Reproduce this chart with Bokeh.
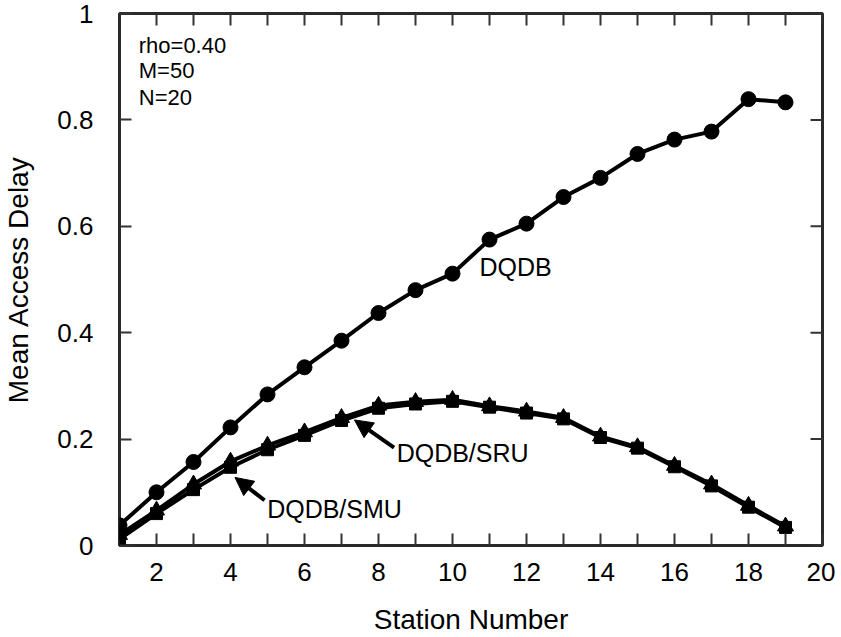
from bokeh.plotting import figure
from bokeh.models import FixedTicker, LinearAxis, Range1d, Arrow, NormalHead, Label
from bokeh.embed import file_html
from bokeh.resources import INLINE

stations = list(range(1, 20))
dqdb = [0.038, 0.100, 0.157, 0.222, 0.284, 0.335, 0.385, 0.437, 0.480, 0.511,
        0.575, 0.605, 0.655, 0.691, 0.736, 0.763, 0.778, 0.839, 0.833]
dqdb_sru = [0.020, 0.066, 0.115, 0.158, 0.188, 0.213, 0.240, 0.263, 0.270, 0.274,
            0.262, 0.252, 0.240, 0.205, 0.185, 0.150, 0.115, 0.075, 0.036]
dqdb_smu = [0.012, 0.060, 0.105, 0.147, 0.180, 0.207, 0.235, 0.258, 0.266, 0.271,
            0.260, 0.249, 0.238, 0.203, 0.183, 0.148, 0.112, 0.072, 0.034]

x_major = [2, 4, 6, 8, 10, 12, 14, 16, 18, 20]
x_minor = [3, 5, 7, 9, 11, 13, 15, 17, 19]
y_major = [0, 0.2, 0.4, 0.6, 0.8, 1.0]
y_labels = {0: "0", 0.2: "0.2", 0.4: "0.4", 0.6: "0.6", 0.8: "0.8", 1.0: "1"}

FONT = "Liberation Sans"
X0, X1, Y0, Y1 = 1, 20, 0, 1

W, H = 835, 637
BL, BR, BT, BB = 117, 13, 13, 92
FW, FH = W - BL - BR, H - BT - BB
TICK = 12

p = figure(width=W, height=H, output_backend="svg", toolbar_location=None,
           x_range=Range1d(X0, X1), y_range=Range1d(Y0, Y1),
           min_border_left=BL, min_border_right=BR, min_border_top=BT, min_border_bottom=BB)
p.xaxis.visible = False
p.yaxis.visible = False
p.grid.visible = False
p.outline_line_color = "#2a2a2a"
p.outline_line_width = 3

def style_axis(ax, ticker):
    ax.ticker = ticker
    ax.axis_line_color = None
    ax.major_tick_in = TICK
    ax.major_tick_out = 0
    ax.minor_tick_in = TICK
    ax.minor_tick_out = 0
    ax.major_tick_line_width = 2
    ax.minor_tick_line_width = 2
    ax.major_tick_line_color = "#333333"
    ax.minor_tick_line_color = "#333333"
    ax.major_label_text_font = FONT
    ax.major_label_text_font_size = "26px"
    ax.major_label_text_color = "black"
    ax.axis_label_text_font = FONT
    ax.axis_label_text_font_size = "28px"
    ax.axis_label_text_font_style = "normal"
    ax.axis_label_text_color = "black"

xb = LinearAxis(axis_label="Station Number")
style_axis(xb, FixedTicker(ticks=x_major, minor_ticks=x_minor))
xb.major_label_standoff = 17
xb.axis_label_standoff = 20
p.add_layout(xb, "below")

yl = LinearAxis(axis_label="Mean Access Delay")
style_axis(yl, FixedTicker(ticks=y_major, minor_ticks=[]))
yl.major_label_overrides = y_labels
yl.major_label_standoff = 26
yl.axis_label_standoff = 20
p.add_layout(yl, "left")

# inward ticks on the top and right edges, derived from the tick lists
x_all = sorted(x_major + x_minor)
dy = TICK / FH * (Y1 - Y0)
dx = TICK / FW * (X1 - X0)
p.segment(x0=x_all, y0=[Y1] * len(x_all), x1=x_all, y1=[Y1 - dy] * len(x_all),
          line_color="#333333", line_width=2)
p.segment(x0=[X1] * len(y_major), y0=y_major, x1=[X1 - dx] * len(y_major), y1=y_major,
          line_color="#333333", line_width=2)

# series
p.line(stations, dqdb, line_color="black", line_width=4)
p.scatter(stations, dqdb, marker="circle", size=15, fill_color="black", line_color="black")

p.line(stations, dqdb_smu, line_color="black", line_width=4)
p.scatter(stations, dqdb_smu, marker="square", size=12, fill_color="black", line_color="black")
p.line(stations, dqdb_sru, line_color="black", line_width=4)
p.scatter(stations, dqdb_sru, marker="triangle", size=16, fill_color="black", line_color="black")

# annotations
for txt, yy in [("rho=0.40", 0.94), ("M=50", 0.893), ("N=20", 0.842)]:
    p.add_layout(Label(x=1.52, y=yy, text=txt, text_font=FONT, text_font_size="22px",
                       text_baseline="middle", text_color="black"))

p.add_layout(Label(x=10.73, y=0.523, text="DQDB", text_font=FONT, text_font_size="25px",
                   text_baseline="middle", text_color="black"))
p.add_layout(Label(x=8.49, y=0.173, text="DQDB/SRU", text_font=FONT, text_font_size="25px",
                   text_baseline="middle", text_color="black"))
p.add_layout(Label(x=4.99, y=0.068, text="DQDB/SMU", text_font=FONT, text_font_size="25px",
                   text_baseline="middle", text_color="black"))

p.add_layout(Arrow(x_start=8.42, y_start=0.184, x_end=7.35, y_end=0.236, line_width=4,
                   end=NormalHead(size=18, fill_color="black", line_color="black")))
p.add_layout(Arrow(x_start=4.92, y_start=0.085, x_end=4.12, y_end=0.128, line_width=4,
                   end=NormalHead(size=18, fill_color="black", line_color="black")))

open("out.html", "w").write(file_html(p, INLINE))
